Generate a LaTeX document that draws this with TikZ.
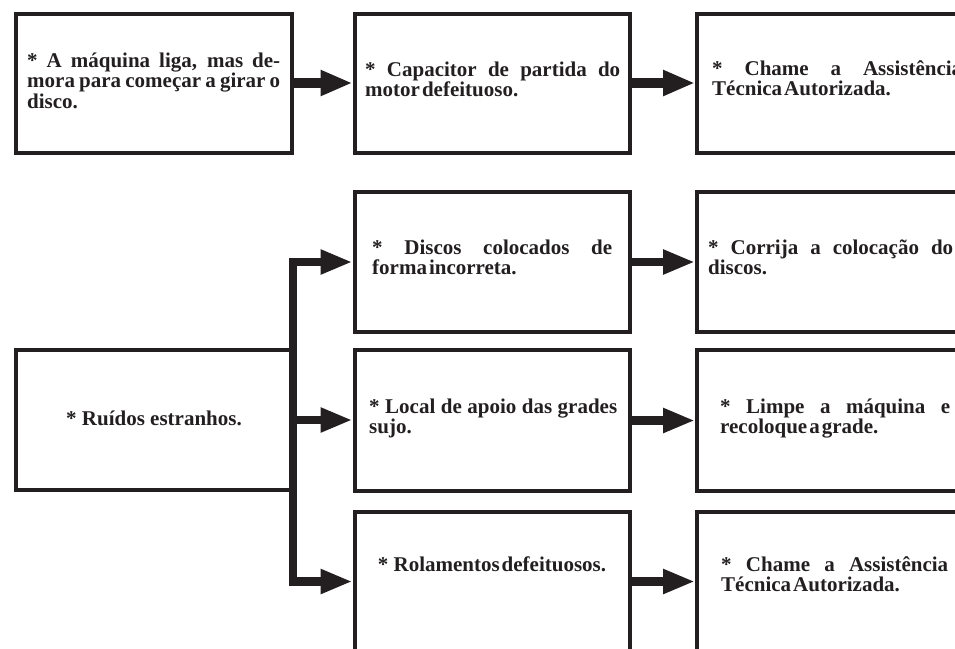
\documentclass[tikz,border=0pt]{standalone}
\usepackage{fontspec}
\setmainfont{Liberation Serif}
\usetikzlibrary{arrows.meta}
\definecolor{ink}{RGB}{35,31,32}
\newcommand{\tsp}{\hspace{2pt}}
\begin{document}
\begin{tikzpicture}[x=1pt,y=-1pt,
  box/.style={draw=ink, line width=4pt, minimum width=275.5pt, minimum height=140pt, inner sep=0pt},
  txtfont/.style={font={\fontsize{21}{20.5}\selectfont\bfseries\spaceskip=0.25em plus 2em minus 0.15em\hyphenpenalty=10000\exhyphenpenalty=10000}},
  txt/.style={txtfont, anchor=base west, inner sep=0pt, align=justify, text=ink},
  ctxt/.style={txtfont, anchor=base, inner sep=0pt, text=ink},
  conn/.style={draw=ink, line width=8.5pt, -{Triangle[length=32pt,width=23pt]}},
  bigconn/.style={draw=ink, line width=10pt, -{Triangle[length=32pt,width=24pt]}},
]
\useasboundingbox (0,0) rectangle (955,648);
\clip (0,0) rectangle (955,648);

% row 1
\node[box, minimum width=276pt, minimum height=139pt] (b1) at (154,83) {};
\node[box, minimum height=139pt] (b2) at (492.25,83) {};
\node[box, minimum height=139pt] (b3) at (834.75,83) {};

% row 2
\node[box, minimum width=275pt] (r) at (153.5,420) {};
\node[box] (m1) at (492.25,262) {};
\node[box, minimum height=141pt] (m2) at (492.25,420.5) {};
\node[box] (m3) at (492.25,581.5) {};
\node[box] (r1) at (834.75,262) {};
\node[box, minimum height=141pt] (r2) at (834.75,420.5) {};
\node[box] (r3) at (834.75,581.5) {};

% texts
\node[txt, text width=253pt] (t1) at (27,67) {* A máquina liga, mas de-\linebreak mora para começar a girar o\linebreak disco.};
\node[txt, text width=255pt] (t2) at (365,76) {* Capacitor de partida do\linebreak motor\tsp defeituoso.};
\node[txt, text width=250pt] (t3) at (712,75) {* Chame a Assistência\linebreak Técnica\tsp Autorizada.};
\node[ctxt] (tr) at (154,425) {* Ruídos estranhos.};
\node[txt, text width=240pt] (tm1) at (372,254) {* Discos colocados de\linebreak forma\tsp incorreta.};
\node[txt, text width=248pt] (tm2) at (369,413) {* Local de apoio das grades\linebreak sujo.};
\node[ctxt] (tm3) at (492,571) {* Rolamentos\tsp defeituosos.};
\node[txt, text width=245pt] (tr1) at (708,254) {* Corrija a colocação do\linebreak discos.};
\node[txt, text width=230pt] (tr2) at (720,413) {* Limpe a máquina e\linebreak recoloque\tsp a\tsp grade.};
\node[txt, text width=227pt] (tr3) at (721,571) {* Chame a Assistência\linebreak Técnica\tsp Autorizada.};

% connectors
\draw[bigconn] (b1) -- (b2);
\draw[bigconn] (b2) -- (b3);
\coordinate (jt) at (293,262);
\coordinate (jb) at (293,581.5);
\draw[conn, {Triangle[length=32pt,width=23pt]}-{Triangle[length=32pt,width=23pt]}, line join=miter] (m1.west) -- (jt) -- (jb) -- (m3.west);
\draw[conn] (r.east) -- (r.east -| m2.west);
\draw[conn] (m1) -- (r1);
\draw[conn] (m2.east) -- (m2.east -| r2.west);
\draw[conn] (m3) -- (r3);
\end{tikzpicture}
\end{document}
